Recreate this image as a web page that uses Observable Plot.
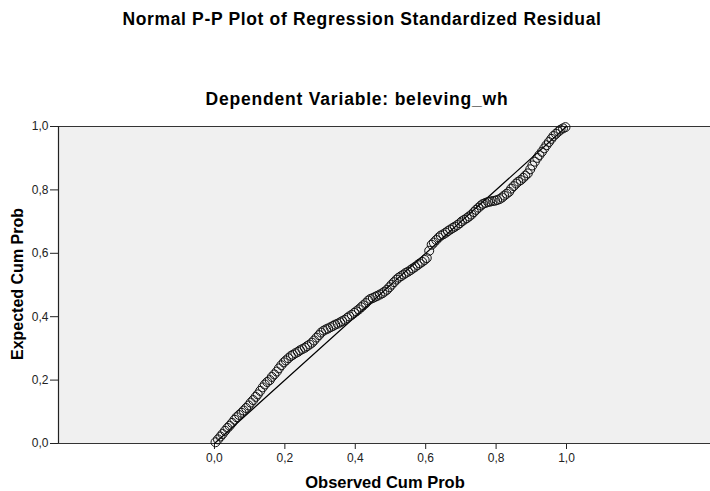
<!DOCTYPE html>
<html>
<head>
<meta charset="utf-8">
<script src="https://cdn.jsdelivr.net/npm/d3@7"></script>
<script src="https://cdn.jsdelivr.net/npm/@observablehq/plot@0.6"></script>
<style>
  html, body { margin: 0; padding: 0; background: #fff; }
  #wrap { position: relative; width: 710px; height: 491px; overflow: hidden; font-family: "Liberation Sans", Arial, sans-serif; color: #000; }
  .t { position: absolute; font-weight: bold; white-space: nowrap; }
  #title { left: 0; width: 724px; top: 9px; text-align: center; font-size: 17.5px; letter-spacing: 0.65px; }
  #subtitle { left: 0; width: 714px; top: 89px; text-align: center; font-size: 17.5px; letter-spacing: 0.8px; }
  #xlabel { left: 385px; top: 473px; transform: translateX(-50%); font-size: 16.5px; }
  #ylabel { left: 18px; top: 284px; transform: translate(-50%, -50%) rotate(-90deg); font-size: 16px; }
  #chart { position: absolute; left: 0; top: 0; }
</style>
</head>
<body>
<div id="wrap">
  <div id="chart"></div>
  <div class="t" id="title">Normal P-P Plot of Regression Standardized Residual</div>
  <div class="t" id="subtitle">Dependent Variable: beleving_wh</div>
  <div class="t" id="xlabel">Observed Cum Prob</div>
  <div class="t" id="ylabel">Expected Cum Prob</div>
</div>
<script>
const observedCumProb = [
  0.003, 0.010, 0.017, 0.023, 0.030, 0.037, 0.043, 0.050, 0.057, 0.063,
  0.070, 0.077, 0.083, 0.090, 0.097, 0.103, 0.110, 0.117, 0.123, 0.130,
  0.137, 0.143, 0.150, 0.157, 0.163, 0.170, 0.177, 0.183, 0.190, 0.197,
  0.203, 0.210, 0.217, 0.223, 0.230, 0.237, 0.243, 0.250, 0.257, 0.263,
  0.270, 0.277, 0.283, 0.290, 0.297, 0.303, 0.310, 0.317, 0.323, 0.330,
  0.337, 0.343, 0.350, 0.357, 0.363, 0.370, 0.377, 0.383, 0.390, 0.397,
  0.403, 0.410, 0.417, 0.423, 0.430, 0.437, 0.443, 0.450, 0.457, 0.463,
  0.470, 0.477, 0.483, 0.490, 0.497, 0.503, 0.510, 0.517, 0.523, 0.530,
  0.537, 0.543, 0.550, 0.557, 0.563, 0.570, 0.577, 0.583, 0.590, 0.597,
  0.603, 0.610, 0.617, 0.623, 0.630, 0.637, 0.643, 0.650, 0.657, 0.663,
  0.670, 0.677, 0.683, 0.690, 0.697, 0.703, 0.710, 0.717, 0.723, 0.730,
  0.737, 0.743, 0.750, 0.757, 0.763, 0.770, 0.777, 0.783, 0.790, 0.797,
  0.803, 0.810, 0.817, 0.823, 0.830, 0.837, 0.843, 0.850, 0.857, 0.863,
  0.870, 0.877, 0.883, 0.890, 0.897, 0.903, 0.910, 0.917, 0.923, 0.930,
  0.937, 0.943, 0.950, 0.957, 0.963, 0.970, 0.977, 0.983, 0.990, 0.997
];
const expectedCumProb = [
  0.004, 0.013, 0.022, 0.030, 0.040, 0.049, 0.056, 0.065, 0.075, 0.083,
  0.090, 0.097, 0.104, 0.112, 0.120, 0.129, 0.137, 0.147, 0.155, 0.166,
  0.177, 0.186, 0.194, 0.200, 0.210, 0.218, 0.227, 0.237, 0.247, 0.256,
  0.262, 0.269, 0.276, 0.280, 0.285, 0.289, 0.294, 0.298, 0.302, 0.307,
  0.312, 0.318, 0.325, 0.334, 0.342, 0.350, 0.356, 0.360, 0.363, 0.367,
  0.371, 0.375, 0.378, 0.382, 0.386, 0.390, 0.396, 0.401, 0.406, 0.412,
  0.417, 0.423, 0.430, 0.436, 0.443, 0.451, 0.456, 0.459, 0.463, 0.466,
  0.470, 0.474, 0.479, 0.485, 0.493, 0.501, 0.509, 0.517, 0.523, 0.528,
  0.533, 0.538, 0.542, 0.547, 0.552, 0.557, 0.563, 0.568, 0.573, 0.579,
  0.585, 0.608, 0.627, 0.634, 0.642, 0.650, 0.656, 0.660, 0.665, 0.670,
  0.675, 0.680, 0.684, 0.689, 0.695, 0.701, 0.706, 0.711, 0.716, 0.722,
  0.730, 0.737, 0.744, 0.751, 0.756, 0.759, 0.762, 0.763, 0.765, 0.766,
  0.768, 0.771, 0.776, 0.782, 0.788, 0.794, 0.804, 0.812, 0.820, 0.826,
  0.831, 0.838, 0.845, 0.852, 0.865, 0.877, 0.889, 0.901, 0.910, 0.920,
  0.931, 0.941, 0.951, 0.961, 0.970, 0.977, 0.984, 0.990, 0.994, 0.998
];
const tickValues = [0, 0.2, 0.4, 0.6, 0.8, 1.0];
const referenceLine = [[0, 0], [1, 1]];
const xDomain = [-0.443, 1.409];
const yDomain = [0, 1];

const points = observedCumProb.map((x, i) => ({x, y: expectedCumProb[i]}));
const fmt = d => d.toFixed(1).replace(".", ",");

const chart = Plot.plot({
  width: 710,
  height: 491,
  marginTop: 126,
  marginBottom: 48,
  marginLeft: 58,
  marginRight: 0,
  style: {fontFamily: "'Liberation Sans', Arial, sans-serif", fontSize: "12px", color: "#222", background: "transparent"},
  x: {domain: xDomain},
  y: {domain: yDomain},
  marks: [
    Plot.frame({fill: "#f0f0f0", stroke: null}),
    Plot.axisX({ticks: tickValues, tickFormat: fmt, tickSize: 6, tickPadding: 4, label: null, fontSize: 12}),
    Plot.axisY({ticks: tickValues, tickFormat: fmt, tickSize: 8, tickPadding: 2, label: null, fontSize: 12}),
    Plot.ruleY([0, 1], {stroke: "#333", strokeWidth: 1.2}),
    Plot.ruleX([xDomain[0]], {stroke: "#222", strokeWidth: 1.2}),
    Plot.line(referenceLine, {x: d => d[0], y: d => d[1], stroke: "#000", strokeWidth: 1.2}),
    Plot.dot(points, {x: "x", y: "y", r: 4.5, stroke: "#111", strokeWidth: 1, fill: "none"})
  ]
});
document.getElementById("chart").appendChild(chart);
</script>
</body>
</html>
